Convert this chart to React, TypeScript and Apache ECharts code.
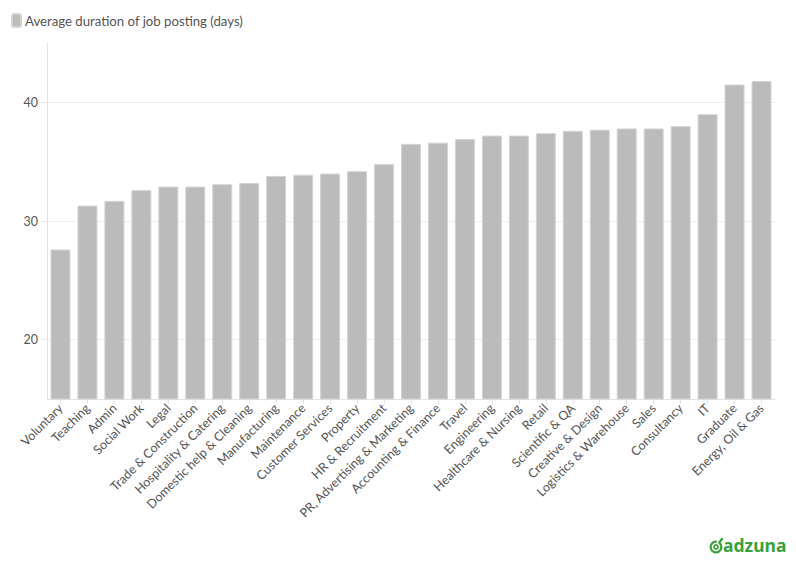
import React, { useEffect, useRef } from "react";
import * as echarts from "echarts";

const categories = [
  "Voluntary",
  "Teaching",
  "Admin",
  "Social Work",
  "Legal",
  "Trade & Construction",
  "Hospitality & Catering",
  "Domestic help & Cleaning",
  "Manufacturing",
  "Maintenance",
  "Customer Services",
  "Property",
  "HR & Recruitment",
  "PR, Advertising & Marketing",
  "Accounting & Finance",
  "Travel",
  "Engineering",
  "Healthcare & Nursing",
  "Retail",
  "Scientific & QA",
  "Creative & Design",
  "Logistics & Warehouse",
  "Sales",
  "Consultancy",
  "IT",
  "Graduate",
  "Energy, Oil & Gas",
];

const durations = [
  27.6, 31.3, 31.7, 32.6, 32.9, 32.9, 33.1, 33.2, 33.8, 33.9, 34.0, 34.2, 34.8,
  36.5, 36.6, 36.9, 37.2, 37.2, 37.4, 37.6, 37.7, 37.8, 37.8, 38.0, 39.0, 41.5,
  41.8,
];

const seriesName = "Average duration of job posting (days)";
const yTicks = [20, 30, 40];
const brandName = "adzuna";

const FONT = "Lato, 'Open Sans', sans-serif";
const TEXT = "#555555";
const GREEN = "#38a23b";

export default function App() {
  const ref = useRef<HTMLDivElement>(null);

  useEffect(() => {
    document.body.style.margin = "0";
    if (!ref.current) return;
    const chart = echarts.init(ref.current, undefined, { renderer: "svg" });
    chart.setOption({
      animation: false,
      backgroundColor: "#ffffff",
      textStyle: { fontFamily: FONT },
      legend: {
        left: 11,
        top: 13,
        padding: 0,
        itemWidth: 9,
        itemHeight: 13,
        icon: "roundRect",
        textStyle: { color: TEXT, fontSize: 13.2, fontFamily: FONT, padding: [0, 0, 0, -1] },
        data: [seriesName],
      },
      grid: { left: 47, right: 21, top: 43, bottom: 176, containLabel: false },
      xAxis: {
        type: "category",
        data: categories,
        axisLine: { show: true, lineStyle: { color: "#e3e3e3", width: 1 } },
        axisTick: { show: true, alignWithLabel: true, length: 5, lineStyle: { color: "#e3e3e3" } },
        axisLabel: {
          rotate: 45,
          interval: 0,
          color: TEXT,
          fontSize: 12.5,
          fontFamily: FONT,
          margin: 7,
        },
      },
      yAxis: {
        type: "value",
        min: 15,
        max: 45,
        axisLine: { show: true, lineStyle: { color: "#e3e3e3", width: 1 } },
        axisTick: {
          show: true,
          length: 6,
          customValues: yTicks,
          lineStyle: { color: "#e6e6e6" },
        },
        splitLine: { show: true, lineStyle: { color: "#eeeeee", width: 1 } },
        axisLabel: {
          color: TEXT,
          fontSize: 12.5,
          fontFamily: FONT,
          margin: 9,
          customValues: yTicks,
        },
      },
      series: [
        {
          name: seriesName,
          type: "bar",
          data: durations,
          barWidth: 20,
          itemStyle: { color: "#bbbbbb", borderColor: "#d4d4d4", borderWidth: 1 },
        },
      ],
      graphic: [
        {
          type: "arc",
          shape: { cx: 716, cy: 547, r: 5.4, startAngle: -Math.PI * 0.3, endAngle: Math.PI * 1.55, clockwise: true },
          style: { stroke: GREEN, lineWidth: 2.3, fill: "none" },
        },
        {
          type: "line",
          shape: { x1: 719.3, y1: 542.5, x2: 722, y2: 539 },
          style: { stroke: GREEN, lineWidth: 2.3, lineCap: "round" },
        },
        {
          type: "circle",
          shape: { cx: 716, cy: 547, r: 2 },
          style: { stroke: GREEN, lineWidth: 1.7, fill: "none" },
        },
        {
          type: "text",
          x: 723,
          y: 554,
          style: {
            text: brandName,
            fill: GREEN,
            font: "bold 17.5px 'Noto Sans', sans-serif",
            textVerticalAlign: "bottom",
          },
        },
      ],
    });
    return () => chart.dispose();
  }, []);

  return <div ref={ref} style={{ width: 796, height: 575 }} />;
}
